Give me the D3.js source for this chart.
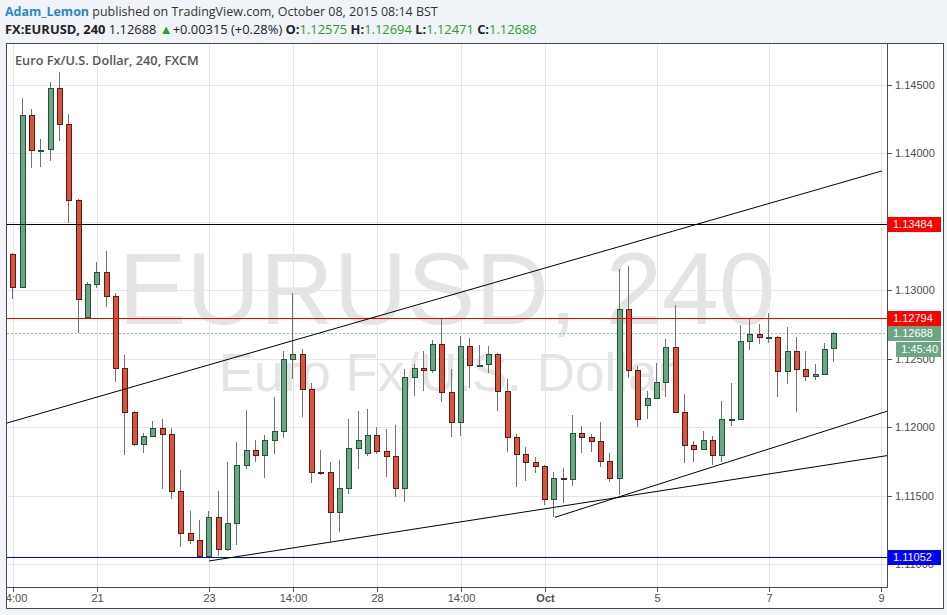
<!DOCTYPE html>
<html><head><meta charset="utf-8">
<script src="https://cdn.jsdelivr.net/npm/d3@7"></script>
<style>
html,body{margin:0;padding:0;background:#f0f3f7;}
svg{display:block;}
</style></head><body>
<svg id="chart" width="947" height="615"></svg>
<script>
// ---------- DATA ----------
const firstBar = -1; // bar index of first entry (4h bars)
const opens  = [1.13285,1.13261,1.13024,1.14277,1.14020,1.14027,1.14472,1.14209,1.13655,1.12801,1.13042,1.13129,1.12954,1.12433,1.12107,1.11874,1.11932,1.11991,1.11947,1.11531,1.11224,1.11173,1.11058,1.11341,1.11107,1.11297,1.11720,1.11830,1.11793,1.11903,1.11969,1.12494,1.12531,1.12275,1.11674,1.11669,1.11377,1.11553,1.11845,1.11808,1.11939,1.11823,1.11786,1.11553,1.12363,1.12428,1.12414,1.12604,1.12253,1.12034,1.12589,1.12450,1.12458,1.12531,1.12263,1.11925,1.11801,1.11742,1.11713,1.11477,1.11626,1.11618,1.11954,1.11925,1.11896,1.11750,1.11626,1.12859,1.12414,1.12158,1.12209,1.12326,1.12582,1.12112,1.11866,1.11843,1.11904,1.11799,1.12057,1.12062,1.12626,1.12679,1.12655,1.12657,1.12411,1.12553,1.12426,1.12370,1.12385,1.12575];
const highs  = [1.13290,1.13272,1.14399,1.14319,1.14102,1.14516,1.14589,1.14282,1.13662,1.13061,1.13204,1.13285,1.12976,1.12523,1.12117,1.11958,1.12044,1.12056,1.11991,1.11686,1.11387,1.11321,1.11387,1.11533,1.11745,1.11893,1.12124,1.11905,1.11942,1.12217,1.12555,1.12980,1.12567,1.12319,1.11832,1.11742,1.11759,1.12058,1.12117,1.12131,1.12002,1.11983,1.12015,1.12421,1.12458,1.12555,1.12635,1.12793,1.12423,1.12664,1.12647,1.12599,1.12591,1.12542,1.12350,1.11949,1.11852,1.11783,1.11725,1.11672,1.11699,1.12088,1.12007,1.11949,1.12034,1.11808,1.13153,1.13175,1.12445,1.12265,1.12465,1.12642,1.12891,1.12239,1.11898,1.11971,1.11934,1.12190,1.12320,1.12745,1.12793,1.12752,1.12830,1.12664,1.12728,1.12655,1.12555,1.12458,1.12615,1.12694];
const lows   = [1.13255,1.12932,1.13017,1.13893,1.13900,1.13944,1.14090,1.13491,1.12684,1.12795,1.13017,1.12878,1.12331,1.11796,1.11864,1.11812,1.11932,1.11545,1.11472,1.11122,1.11144,1.11042,1.11058,1.11058,1.11097,1.11141,1.11696,1.11745,1.11630,1.11801,1.11922,1.12353,1.12075,1.11589,1.11650,1.11158,1.11236,1.11509,1.11691,1.11791,1.11801,1.11633,1.11491,1.11450,1.12228,1.12265,1.12396,1.12180,1.11929,1.11936,1.12282,1.12445,1.12392,1.12117,1.11820,1.11564,1.11608,1.11666,1.11431,1.11345,1.11443,1.11572,1.11808,1.11815,1.11710,1.11601,1.11504,1.12355,1.11998,1.12061,1.12209,1.12221,1.12100,1.11735,1.11741,1.11839,1.11720,1.11741,1.12007,1.12062,1.12562,1.12606,1.12615,1.12221,1.12314,1.12112,1.12338,1.12343,1.12385,1.12471];
const closes = [1.13261,1.13024,1.14277,1.14020,1.14024,1.14472,1.14209,1.13655,1.12932,1.13042,1.13129,1.12954,1.12433,1.12107,1.11874,1.11932,1.11991,1.11947,1.11531,1.11224,1.11173,1.11058,1.11341,1.11107,1.11297,1.11720,1.11830,1.11793,1.11903,1.11969,1.12494,1.12531,1.12275,1.11674,1.11672,1.11377,1.11553,1.11845,1.11903,1.11939,1.11823,1.11786,1.11553,1.12363,1.12428,1.12414,1.12604,1.12253,1.12034,1.12589,1.12450,1.12455,1.12531,1.12263,1.11925,1.11801,1.11742,1.11713,1.11477,1.11626,1.11620,1.11954,1.11925,1.11896,1.11750,1.11626,1.12859,1.12414,1.12056,1.12209,1.12326,1.12582,1.12112,1.11866,1.11843,1.11904,1.11799,1.12057,1.12061,1.12626,1.12679,1.12655,1.12655,1.12411,1.12553,1.12426,1.12370,1.12385,1.12567,1.12688];

const timeTickBars   = [0, 9, 21, 30, 39, 48, 57, 69, 81, 93];
const timeTickLabels = ["14:00","21","23","14:00","28","14:00","Oct","5","7","9"];
const priceTicks     = [1.110,1.115,1.120,1.125,1.130,1.135,1.140,1.145];

const levelPrices = [1.13484, 1.12794, 1.11052];
const lastPrice   = 1.12688;
const timerLabel  = "1:45:40";

const trendStartBars   = [-0.675, 20.97, 58.06];
const trendStartPrices = [1.12029, 1.11022, 1.11341];
const trendEndBars     = [93.10, 93.64, 93.64];
const trendEndPrices   = [1.13869, 1.11791, 1.12115];

// ---------- STYLE ----------
const levelColors = ["#000000", "#ff0000", "#0000ff"];
const levelBoxColors = ["#ff0000", "#ff0000", "#0000ff"];
const upFill="#6ba583", upLine="#225437", dnFill="#d75442", dnLine="#5b1a13", wickCol="#737375";
const axisFont = "'Liberation Sans', Arial, sans-serif";
const uiFont = "'Open Sans', 'Noto Sans', sans-serif";

const W=947, H=615;
const plot = {left:7, right:887, top:44, bottom:587};
const svg = d3.select("#chart");

const x = d3.scaleLinear().domain([-0.675, 93.64]).range([plot.left, plot.right]);
const y = d3.scaleLinear().domain([1.11, 1.145]).range([564, 84.5]);

svg.append("rect").attr("width",W).attr("height",H).attr("fill","#f0f3f7");

const defs = svg.append("defs");
defs.append("clipPath").attr("id","clipPlot").append("rect")
  .attr("x",plot.left).attr("y",plot.top).attr("width",plot.right-plot.left).attr("height",plot.bottom-plot.top);
defs.append("clipPath").attr("id","clipTime").append("rect")
  .attr("x",plot.left).attr("y",plot.bottom).attr("width",plot.right-plot.left).attr("height",H-plot.bottom);

// frame
svg.append("rect").attr("x",6.5).attr("y",43.5).attr("width",937).attr("height",565)
  .attr("fill","#ffffff").attr("stroke","#4a4a4a").attr("stroke-width",1);

const g = svg.append("g").attr("clip-path","url(#clipPlot)");

// grid
g.selectAll("line.hg").data(priceTicks).join("line").attr("class","hg")
  .attr("x1",plot.left).attr("x2",plot.right)
  .attr("y1",d=>Math.round(y(d))+0.5).attr("y2",d=>Math.round(y(d))+0.5)
  .attr("stroke","#e6e6e6");
g.selectAll("line.vg").data(timeTickBars).join("line").attr("class","vg")
  .attr("y1",plot.top).attr("y2",plot.bottom)
  .attr("x1",d=>Math.round(x(d))+0.5).attr("x2",d=>Math.round(x(d))+0.5)
  .attr("stroke","#e6e6e6");

// watermark
const midX = (plot.left+plot.right)/2;
const wm1 = g.append("text").attr("x",midX).attr("y",324).attr("text-anchor","middle")
  .attr("font-family",axisFont).attr("font-size",100).attr("fill","#e4e4e4").text("EURUSD, 240");
let wl = wm1.node().getComputedTextLength(); wm1.attr("font-size",100*657/wl);
g.append("text").attr("x",midX).attr("y",391).attr("text-anchor","middle")
  .attr("font-family",axisFont).attr("font-size",53).attr("fill","#e4e4e4").text("Euro Fx/U.S. Dollar");

// current price dashed line
g.append("line").attr("class","last").attr("x1",plot.left).attr("x2",plot.right)
  .attr("y1",Math.round(y(lastPrice))+0.5).attr("y2",Math.round(y(lastPrice))+0.5)
  .attr("stroke","#8fc4a3").attr("stroke-dasharray","2,2");

// candles
const bars = opens.map((o,k)=>({i:k+firstBar,o:o,h:highs[k],l:lows[k],c:closes[k]}));
const cg = g.append("g");
cg.selectAll("line.wick").data(bars).join("line").attr("class","wick")
  .attr("x1",d=>Math.round(x(d.i))-0.5).attr("x2",d=>Math.round(x(d.i))-0.5)
  .attr("y1",d=>Math.round(y(d.h))).attr("y2",d=>Math.round(y(d.l)))
  .attr("stroke",wickCol).attr("stroke-width",1);
cg.selectAll("rect.body").data(bars).join("rect").attr("class","body")
  .attr("x",d=>Math.round(x(d.i))-2.5).attr("width",5)
  .attr("y",d=>Math.round(y(Math.max(d.o,d.c)))+0.5)
  .attr("height",d=>Math.max(1, Math.round(y(Math.min(d.o,d.c)))-Math.round(y(Math.max(d.o,d.c)))))
  .attr("fill",d=>d.c>=d.o?upFill:dnFill)
  .attr("stroke",d=>d.c>=d.o?upLine:dnLine).attr("stroke-width",1);

// level lines
const lg = svg.append("g").attr("clip-path","url(#clipPlot)");
levelPrices.forEach((p,k)=>{
  const yy = Math.round(y(p))+0.5;
  lg.append("line").attr("class","lvl")
    .attr("x1",plot.left).attr("x2",plot.right).attr("y1",yy).attr("y2",yy)
    .style("stroke",levelColors[k]).style("stroke-width","1px");
});

// trend lines
trendStartBars.forEach((b,k)=>{
  lg.append("line").attr("class","trend")
    .attr("x1",x(trendStartBars[k])).attr("y1",y(trendStartPrices[k]))
    .attr("x2",x(trendEndBars[k])).attr("y2",y(trendEndPrices[k]))
    .style("stroke","#000").style("stroke-width","1px");
});

// axes frame lines
svg.append("line").attr("x1",887.5).attr("x2",887.5).attr("y1",43.5).attr("y2",plot.bottom+0.5).attr("stroke","#4a4a4a");
svg.append("line").attr("x1",6.5).attr("x2",887.5).attr("y1",plot.bottom+0.5).attr("y2",plot.bottom+0.5).attr("stroke","#4a4a4a");

// price axis
const yAxis = d3.axisRight(y).tickValues(priceTicks).tickFormat(d3.format(".5f")).tickSize(4).tickPadding(3);
const ya = svg.append("g").attr("transform","translate(888,0)").call(yAxis);
ya.select(".domain").remove();
ya.selectAll(".tick").attr("transform",d=>`translate(0,${Math.round(y(d))+0.5})`);
ya.selectAll("line").attr("stroke","#555");
ya.selectAll("text").attr("font-family",axisFont).attr("font-size",11).attr("fill","#4d4d4d");

// time axis
const xAxis = d3.axisBottom(x).tickValues(timeTickBars).tickFormat((d,k)=>timeTickLabels[k]).tickSize(4).tickPadding(2);
const xa = svg.append("g").attr("clip-path","url(#clipTime)").append("g")
  .attr("transform",`translate(0,${plot.bottom+1})`).call(xAxis);
xa.select(".domain").remove();
xa.selectAll(".tick").attr("transform",d=>`translate(${Math.round(x(d))+0.5},0)`);
xa.selectAll("line").attr("stroke","#555");
xa.selectAll("text").attr("font-family",axisFont).attr("font-size",11).attr("fill","#4d4d4d")
  .attr("font-weight",(d,k)=>timeTickLabels[k]==="Oct"?"bold":"normal");

// price label boxes (drawn over the axis labels, as in the original)
const boxData = levelPrices.map((p,k)=>({p:p,col:levelBoxColors[k]})).concat([{p:lastPrice,col:"#6ba583"}]);
const bg = svg.append("g");
boxData.forEach(b=>{
  const cy = Math.round(y(b.p));
  bg.append("rect").attr("x",888).attr("y",cy-7).attr("width",53).attr("height",15).attr("fill",b.col);
  bg.append("text").attr("x",893).attr("y",cy+0.5).attr("dy","0.35em").attr("font-family",axisFont)
    .attr("font-size",11).attr("fill","#fff").text(d3.format(".5f")(b.p));
});
const ty = Math.round(y(lastPrice))+9;
bg.append("rect").attr("x",896).attr("y",ty).attr("width",45).attr("height",15).attr("fill","#6ba583");
bg.append("text").attr("x",938).attr("y",ty+7.5).attr("dy","0.35em").attr("text-anchor","end").attr("font-family",axisFont)
  .attr("font-size",11).attr("fill","#fff").text(timerLabel);

// header
function fit(sel, target){ const l = sel.node().getComputedTextLength(); const fs = +sel.attr("font-size"); sel.attr("font-size", fs*target/l); }
const h1 = svg.append("text").attr("x",5).attr("y",16).attr("font-family",uiFont).attr("font-size",13).attr("fill","#333");
h1.append("tspan").attr("fill","#2e86c8").attr("font-weight","bold").text("Adam_Lemon");
h1.append("tspan").text(" published on TradingView.com, October 08, 2015 08:14 BST");
fit(h1, 433);

const green = "#2a9d2a";
const h2 = svg.append("text").attr("x",5).attr("y",34).attr("font-family",uiFont).attr("font-size",13).attr("fill","#222");
h2.append("tspan").attr("font-weight","bold").text("FX:EURUSD, 240");
h2.append("tspan").text(" 1.12688 ");
h2.append("tspan").attr("fill",green).text("▲");
h2.append("tspan").text("+0.00315 (+0.28%) ");
[["O:","1.12575"],["H:","1.12694"],["L:","1.12471"],["C:","1.12688"]].forEach((p,k)=>{
  h2.append("tspan").attr("font-weight","bold").text((k?" ":"")+p[0]);
  h2.append("tspan").attr("fill",green).text(p[1]);
});
fit(h2, 532);

const t = svg.append("text").attr("x",15).attr("y",65).attr("font-family",uiFont).attr("font-size",12.5)
  .attr("font-weight",600).attr("fill","#555").text("Euro Fx/U.S. Dollar, 240, FXCM");
fit(t, 184);
</script>
</body></html>
